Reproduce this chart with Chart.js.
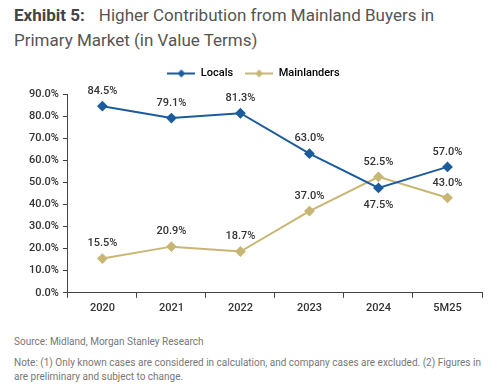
<!DOCTYPE html>
<html lang="en">
<head>
  <meta charset="UTF-8" />
  <title>Exhibit 5</title>
  <style>
    body {
      margin: 0;
      background: #ffffff;
      font-family: 'Roboto', sans-serif;
      width: 498px;
      height: 392px;
      position: relative;
      overflow: hidden;
    }

    #title {
      position: absolute;
      left: 14px;
      top: 3px;
      font-size: 17px;
      line-height: 25px;
      color: #555;
    }

    #title b {
      color: #444;
      margin-right: 14px;
    }

    #chartBox {
      position: absolute;
      left: 0;
      top: 56px;
      width: 498px;
      height: 267px;
    }

    #source {
      position: absolute;
      left: 14px;
      top: 336px;
      font-size: 10px;
      color: #777;
    }

    #note {
      position: absolute;
      left: 14px;
      top: 356px;
      width: 474px;
      font-size: 10px;
      line-height: 14px;
      color: #777;
    }
  </style>
</head>
<body>
  <div id="title"><b>Exhibit 5:</b>Higher Contribution from Mainland Buyers in<br>Primary Market (in Value Terms)</div>
  <div id="chartBox"><canvas id="shareChart"></canvas></div>
  <div id="source">Source: Midland, Morgan Stanley Research</div>
  <div id="note">Note: (1) Only known cases are considered in calculation, and company cases are excluded. (2) Figures in are preliminary and subject to change.</div>

  <script src="https://cdn.jsdelivr.net/npm/chart.js"></script>
  <script>
    const years = ['2020', '2021', '2022', '2023', '2024', '5M25'];
    const locals = [84.5, 79.1, 81.3, 63.0, 47.5, 57.0];
    const mainlanders = [15.5, 20.9, 18.7, 37.0, 52.5, 43.0];
    const yTicks = [0, 10, 20, 30, 40, 50, 60, 70, 80, 90];

    // which labels sit under the point instead of above
    const localsBelow = [false, false, false, false, true, false];
    const mainlandBelow = [false, false, false, false, false, false];

    const blue = '#1c5c9c';
    const khaki = '#c8b674';

    // little line + diamond icon for the legend
    function legendIcon(color) {
      const c = document.createElement('canvas');
      c.width = 28;
      c.height = 10;
      const g = c.getContext('2d');
      g.strokeStyle = color;
      g.lineWidth = 2;
      g.beginPath();
      g.moveTo(0, 5);
      g.lineTo(28, 5);
      g.stroke();
      g.fillStyle = color;
      g.beginPath();
      g.moveTo(14, 1);
      g.lineTo(18, 5);
      g.lineTo(14, 9);
      g.lineTo(10, 5);
      g.closePath();
      g.fill();
      return c;
    }

    // extra gap under the legend
    const legendGap = {
      id: 'legendGap',
      beforeInit(chart) {
        const fit = chart.legend.fit;
        chart.legend.fit = function () {
          fit.call(this);
          this.height += 5;
        };
      }
    };

    const pointLabels = {
      id: 'pointLabels',
      afterDatasetsDraw(chart) {
        const ctx = chart.ctx;
        ctx.save();
        ctx.font = '500 11px Roboto, sans-serif';
        ctx.fillStyle = '#333';
        ctx.textAlign = 'center';
        ctx.textBaseline = 'middle';
        chart.data.datasets.forEach((ds, i) => {
          const below = i === 0 ? localsBelow : mainlandBelow;
          chart.getDatasetMeta(i).data.forEach((pt, j) => {
            const dy = below[j] ? 17 : -15;
            ctx.fillText(ds.data[j].toFixed(1) + '%', pt.x, pt.y + dy);
          });
        });
        ctx.restore();
      }
    };

    const ctx = document.getElementById('shareChart').getContext('2d');
    new Chart(ctx, {
      type: 'line',
      data: {
        labels: years,
        datasets: [
          {
            label: 'Locals',
            data: locals,
            borderColor: blue,
            backgroundColor: blue,
            borderWidth: 2,
            pointStyle: 'rectRot',
            pointRadius: 4,
            tension: 0
          },
          {
            label: 'Mainlanders',
            data: mainlanders,
            borderColor: khaki,
            backgroundColor: khaki,
            borderWidth: 2,
            pointStyle: 'rectRot',
            pointRadius: 4,
            tension: 0
          }
        ]
      },
      options: {
        responsive: true,
        maintainAspectRatio: false,
        animation: false,
        layout: {
          padding: { left: 25, right: 16, top: 0, bottom: 4 }
        },
        plugins: {
          legend: {
            position: 'top',
            labels: {
              usePointStyle: true,
              pointStyleWidth: 28,
              color: '#333',
              font: { family: 'Roboto', size: 11, weight: '500' },
              padding: 12,
              generateLabels(chart) {
                return chart.data.datasets.map((ds, i) => ({
                  text: ds.label,
                  pointStyle: legendIcon(ds.borderColor),
                  fillStyle: ds.borderColor,
                  strokeStyle: ds.borderColor,
                  lineWidth: 0,
                  datasetIndex: i
                }));
              }
            }
          },
          tooltip: { enabled: false }
        },
        scales: {
          x: {
            offset: true,
            grid: {
              display: true,
              drawOnChartArea: false,
              drawTicks: true,
              tickLength: 5,
              color: '#444',
              offset: true
            },
            border: { color: '#444', width: 1 },
            ticks: {
              color: '#333',
              font: { family: 'Roboto', size: 11, weight: '500' },
              padding: 4
            }
          },
          y: {
            min: 0,
            max: 90,
            afterBuildTicks(axis) {
              axis.ticks = yTicks.map(v => ({ value: v }));
            },
            grid: {
              display: true,
              drawOnChartArea: false,
              drawTicks: true,
              tickLength: 5,
              color: '#444'
            },
            border: { color: '#444', width: 1 },
            ticks: {
              color: '#333',
              font: { family: 'Roboto', size: 11, weight: '500' },
              padding: 4,
              callback: v => v.toFixed(1) + '%'
            }
          }
        }
      },
      plugins: [legendGap, pointLabels]
    });
  </script>
</body>
</html>
